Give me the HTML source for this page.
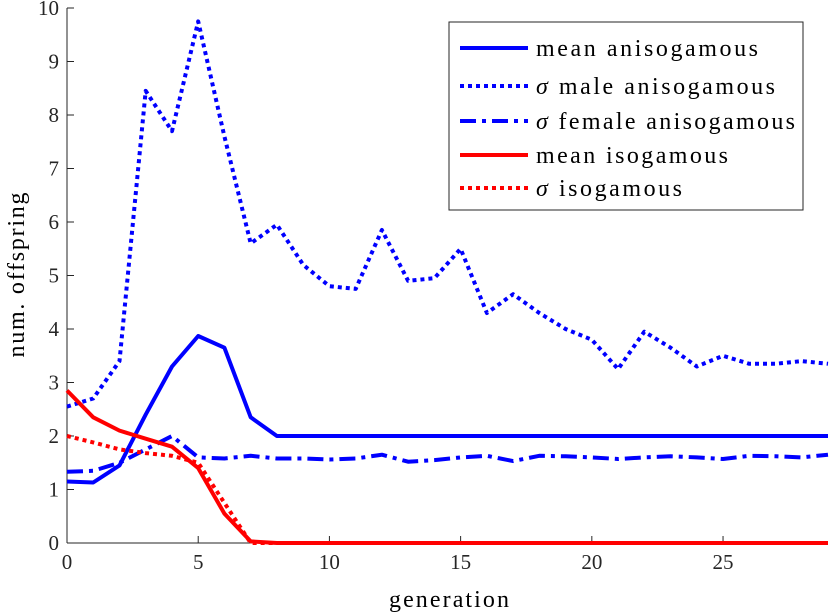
<!DOCTYPE html>
<html><head><meta charset="utf-8"><style>
html,body{margin:0;padding:0;background:#fff;}
svg{display:block;font-family:"Liberation Serif",serif;}
</style></head><body>
<svg id="chart" width="830" height="613" viewBox="0 0 830 613" xmlns="http://www.w3.org/2000/svg">
<g id="axes"></g>
<g id="series"></g>
<text x="449" y="607" text-anchor="middle" font-size="24" textLength="120">generation</text>
<text transform="translate(24,275) rotate(-90)" text-anchor="middle" font-size="24" textLength="165">num. offspring</text>
<g>
<rect x="449" y="22" width="354" height="188" fill="#fff" stroke="#262626" stroke-width="1"/>
<g><line x1="460" y1="48" x2="528" y2="48" stroke="#0000ff" stroke-width="4"/><text x="536" y="56" font-size="24" textLength="222">mean anisogamous</text></g>
<g><line x1="460" y1="86" x2="528" y2="86" stroke="#0000ff" stroke-width="4" stroke-dasharray="4,4"/><text x="536" y="94" font-size="24" textLength="239"><tspan font-style="italic">σ</tspan> male anisogamous</text></g>
<g><line x1="460" y1="121" x2="528" y2="121" stroke="#0000ff" stroke-width="4" stroke-dasharray="16,6,4,6"/><text x="536" y="129" font-size="24" textLength="259"><tspan font-style="italic">σ</tspan> female anisogamous</text></g>
<g><line x1="460" y1="155" x2="528" y2="155" stroke="#ff0000" stroke-width="4"/><text x="536" y="163" font-size="24" textLength="192">mean isogamous</text></g>
<g><line x1="460" y1="188" x2="528" y2="188" stroke="#ff0000" stroke-width="4" stroke-dasharray="4,4"/><text x="536" y="196" font-size="24" textLength="146"><tspan font-style="italic">σ</tspan> isogamous</text></g>
</g>
</svg>
<script>
const generations = Array.from({length:30},(_, i)=>i);
const meanAniso = [1.15,1.13,1.45,2.4,3.3,3.87,3.65,2.35,2.0,2.0,2.0,2.0,2.0,2.0,2.0,2.0,2.0,2.0,2.0,2.0,2.0,2.0,2.0,2.0,2.0,2.0,2.0,2.0,2.0,2.0];
const sigmaMale = [2.55,2.7,3.4,8.45,7.7,9.75,7.6,5.6,5.95,5.2,4.8,4.75,5.85,4.9,4.95,5.5,4.3,4.65,4.3,4.0,3.8,3.25,3.95,3.65,3.3,3.5,3.35,3.35,3.4,3.35];
const sigmaFemale = [1.33,1.35,1.5,1.75,2.0,1.6,1.58,1.63,1.58,1.58,1.56,1.58,1.65,1.52,1.55,1.6,1.63,1.53,1.63,1.62,1.6,1.57,1.6,1.62,1.6,1.57,1.63,1.62,1.6,1.65];
const meanIso = [2.85,2.35,2.1,1.95,1.8,1.4,0.55,0.03,0,0,0,0,0,0,0,0,0,0,0,0,0,0,0,0,0,0,0,0,0,0];
const sigmaIso = [2.0,1.88,1.75,1.68,1.63,1.5,0.75,0,0,0,0,0,0,0,0,0,0,0,0,0,0,0,0,0,0,0,0,0,0,0];
const xTicks = [0,5,10,15,20,25];
const yTicks = [0,1,2,3,4,5,6,7,8,9,10];

const NS="http://www.w3.org/2000/svg";
const X0=67,X1=828,Y0=543,Y1=8,XMAX=29,YMAX=10;
const xs=v=>X0+v/XMAX*(X1-X0);
const ys=v=>Y0-v/YMAX*(Y0-Y1);
const axes=document.getElementById('axes');
const series=document.getElementById('series');
function mk(tag,attrs,parent){const e=document.createElementNS(NS,tag);for(const k in attrs)e.setAttribute(k,attrs[k]);parent.appendChild(e);return e;}

const xl=mk('line',{x1:X0,y1:Y0,x2:X1,y2:Y0,stroke:'#262626','stroke-width':1},axes);


const yl=mk('line',{x1:X0,y1:Y0,x2:X0,y2:Y1,stroke:'#262626','stroke-width':1},axes);


xTicks.forEach(t=>{
  mk('line',{x1:xs(t),y1:Y0,x2:xs(t),y2:Y0-7,stroke:'#262626'},axes);
  const tx=mk('text',{x:xs(t),y:Y0+26,'text-anchor':'middle','font-size':21,fill:'#262626'},axes);
  tx.textContent=t;
  
  
});
yTicks.forEach(t=>{
  mk('line',{x1:X0,y1:ys(t),x2:X0+7,y2:ys(t),stroke:'#262626'},axes);
  const tx=mk('text',{x:X0-8,y:ys(t)+7,'text-anchor':'end','font-size':21,fill:'#262626'},axes);
  tx.textContent=t;
  
  
});
function line(data,color,dash,name){
  const d=data.map((v,i)=>(i?'L':'M')+xs(generations[i]).toFixed(1)+','+ys(v).toFixed(1)).join('');
  const p=mk('path',{d:d,fill:'none',stroke:color,'stroke-width':4,'stroke-linejoin':'round'},series);
  if(dash)p.setAttribute('stroke-dasharray',dash);
  
  
}
line(sigmaMale,'#0000ff','4,4','line-sigma-male-aniso');
line(sigmaFemale,'#0000ff','16,6,4,6','line-sigma-female-aniso');
line(meanAniso,'#0000ff',null,'line-mean-aniso');
line(sigmaIso,'#ff0000','4,4','line-sigma-iso');
line(meanIso,'#ff0000',null,'line-mean-iso');
</script>
</body></html>
